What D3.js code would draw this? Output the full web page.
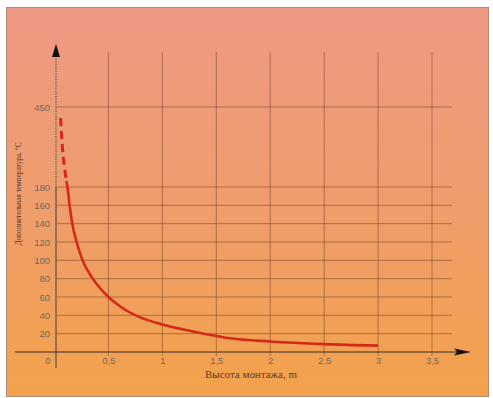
<!DOCTYPE html>
<html>
<head>
<meta charset="utf-8">
<script src="https://cdn.jsdelivr.net/npm/d3@7"></script>
<style>
  body { margin: 0; background: #fff; }
  .tick text { font-family: "Liberation Sans", Arial, sans-serif; fill: #74665c; }
</style>
</head>
<body>
<div class="chart"></div>
<script>
// x ticks (height, m) and y ticks (temperature, C)
var xTicks = [0.5, 1, 1.5, 2, 2.5, 3, 3.5];
var xTickLabels = ["0,5", "1", "1,5", "2", "2,5", "3", "3,5"];
var yTicks = [20, 40, 60, 80, 100, 120, 140, 160, 180, 450];

// curve: dashed part above the axis break, solid below
var dashX = [0.056, 0.075, 0.095, 0.11];
var dashY = [413, 305, 240, 200];
var solidX = [0.11, 0.12, 0.14, 0.165, 0.205, 0.26, 0.355, 0.5, 0.63, 0.79, 1.0, 1.26, 1.5, 1.63, 2.0, 2.5, 3.0];
var solidY = [200, 180, 160, 140, 120, 100, 80, 60, 48, 38, 30, 23, 17.5, 15, 11.5, 8.6, 7];

var svgWidth = 493, svgHeight = 398;

var svg = d3.select(".chart").append("svg")
  .attr("width", svgWidth)
  .attr("height", svgHeight);

// background gradient
var defs = svg.append("defs");
var grad = defs.append("linearGradient")
  .attr("id", "bg").attr("x1", 0).attr("y1", 0).attr("x2", 0).attr("y2", 1);
grad.append("stop").attr("offset", "0%").attr("stop-color", "#ee9985");
grad.append("stop").attr("offset", "50%").attr("stop-color", "#ef9d6c");
grad.append("stop").attr("offset", "100%").attr("stop-color", "#f3a24b");

svg.append("rect")
  .attr("x", 6.5).attr("y", 7.5)
  .attr("width", 482).attr("height", 389)
  .attr("fill", "url(#bg)")
  .attr("stroke", "#b08a78")
  .attr("stroke-width", 1);

// scales (y axis is broken: 0-180 linear, then squeezed up to 450)
var x = d3.scaleLinear().domain([0, 3.5]).range([54.5, 432]);
var y = d3.scaleLinear().domain([0, 180, 450]).range([352, 187, 107]);

var gridColor = "rgba(120,70,45,0.55)";

// vertical gridlines
svg.selectAll(".vgrid")
  .data(xTicks)
  .enter().append("line")
  .attr("class", "vgrid")
  .attr("x1", d => x(d)).attr("x2", d => x(d))
  .attr("y1", 52).attr("y2", 356)
  .attr("stroke", gridColor)
  .attr("stroke-width", 1);

// horizontal gridlines
svg.selectAll(".hgrid")
  .data(yTicks)
  .enter().append("line")
  .attr("class", "hgrid")
  .attr("x1", 56).attr("x2", 452)
  .attr("y1", d => y(d)).attr("y2", d => y(d))
  .attr("stroke", gridColor)
  .attr("stroke-width", 1);

// y axis: dotted above the break, solid below
svg.append("line")
  .attr("x1", 56).attr("x2", 56)
  .attr("y1", 56).attr("y2", 186)
  .attr("stroke", "#8a7060")
  .attr("stroke-width", 2)
  .attr("stroke-dasharray", "1.2,1.3");
svg.append("line")
  .attr("x1", 56).attr("x2", 56)
  .attr("y1", 186).attr("y2", 368)
  .attr("stroke", "#7a6050")
  .attr("stroke-width", 1.5);
svg.append("path")
  .attr("d", "M56,44 L52,57 L60,57 Z")
  .attr("fill", "#111");

// x axis with arrow
svg.append("line")
  .attr("x1", 15).attr("x2", 460)
  .attr("y1", y(0)).attr("y2", y(0))
  .attr("stroke", "#3a2a20")
  .attr("stroke-width", 1);
svg.append("path")
  .attr("d", `M471,${y(0)} L454,${y(0) - 3.5} L457,${y(0)} L454,${y(0) + 3.5} Z`)
  .attr("fill", "#111");

// tick labels
var xAxis = d3.axisBottom(x)
  .tickValues(xTicks)
  .tickSize(0)
  .tickPadding(5)
  .tickFormat((d, i) => xTickLabels[i]);
var gx = svg.append("g")
  .attr("transform", `translate(0, ${y(0)})`)
  .call(xAxis);
gx.select(".domain").remove();
gx.selectAll("text").attr("font-size", 9.5);

// origin label
gx.append("text")
  .attr("x", 48).attr("y", 5).attr("dy", "0.71em")
  .attr("text-anchor", "middle")
  .attr("font-family", "Liberation Sans, Arial, sans-serif")
  .attr("font-size", 9.5)
  .attr("fill", "#74665c")
  .text("0");

var yAxis = d3.axisLeft(y)
  .tickValues(yTicks)
  .tickSize(0)
  .tickPadding(6)
  .tickFormat(d3.format("d"));
var gy = svg.append("g")
  .attr("transform", "translate(56,0)")
  .call(yAxis);
gy.select(".domain").remove();
gy.selectAll("text").attr("font-size", 9.5);

// curve
var line = d3.line()
  .x(d => x(d[0]))
  .y(d => y(d[1]))
  .curve(d3.curveMonotoneX);

svg.append("path")
  .datum(dashX.map((d, i) => [d, dashY[i]]))
  .attr("d", line)
  .attr("fill", "none")
  .attr("stroke", "#d8261c")
  .attr("stroke-width", 3)
  .attr("stroke-dasharray", "8,5");

svg.append("path")
  .datum(solidX.map((d, i) => [d, solidY[i]]))
  .attr("d", line)
  .attr("fill", "none")
  .attr("stroke", "#d42a1a")
  .attr("stroke-width", 2.6);

// axis titles
svg.append("text")
  .attr("transform", "translate(21,194) rotate(-90)")
  .attr("text-anchor", "middle")
  .attr("font-family", "Liberation Serif, Times New Roman, serif")
  .attr("font-size", 9)
  .attr("textLength", 103)
  .attr("lengthAdjust", "spacingAndGlyphs")
  .attr("fill", "#4a3328")
  .text("Дополнительная температура, °C");

svg.append("text")
  .attr("x", 251).attr("y", 378)
  .attr("text-anchor", "middle")
  .attr("font-family", "Liberation Serif, Times New Roman, serif")
  .attr("font-size", 9.5)
  .attr("textLength", 92)
  .attr("lengthAdjust", "spacingAndGlyphs")
  .attr("fill", "#5a3a28")
  .text("Высота монтажа, m");
</script>
</body>
</html>
